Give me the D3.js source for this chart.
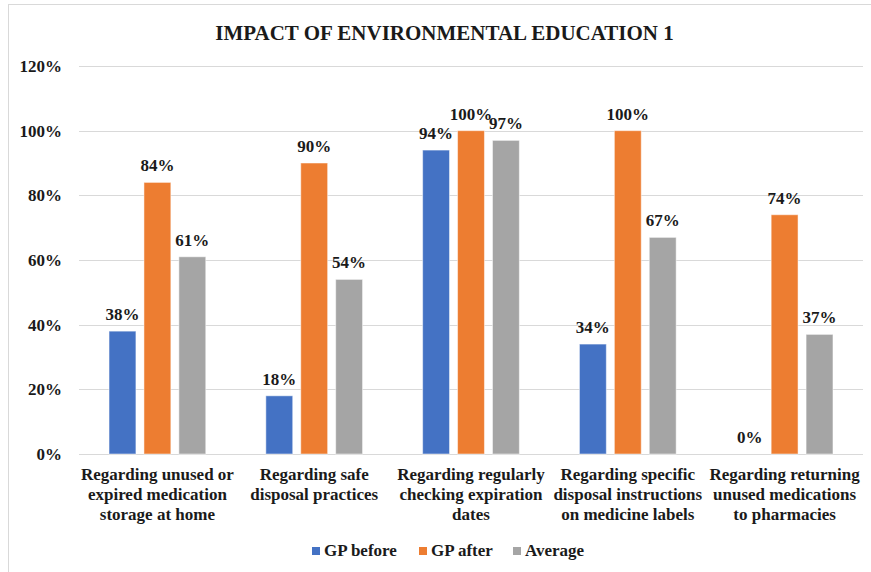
<!DOCTYPE html>
<html>
<head>
<meta charset="utf-8">
<script src="https://cdn.jsdelivr.net/npm/d3@7"></script>
<style>
  html, body { margin: 0; padding: 0; background: #fff; }
  svg { display: block; }
</style>
</head>
<body>
<svg id="chart" width="871" height="572"></svg>
<script>
// Survey categories (multi-line labels)
const categories = [
  ["Regarding unused or", "expired medication", "storage at home"],
  ["Regarding safe", "disposal practices"],
  ["Regarding regularly", "checking expiration", "dates"],
  ["Regarding specific", "disposal instructions", "on medicine labels"],
  ["Regarding returning", "unused medications", "to pharmacies"]
];
const seriesNames = ["GP before", "GP after", "Average"];
const gpBefore = [0.38, 0.18, 0.94, 0.34, 0.00];
const gpAfter  = [0.84, 0.90, 1.00, 1.00, 0.74];
const average  = [0.61, 0.54, 0.97, 0.67, 0.37];
const yTicks = [0, 0.2, 0.4, 0.6, 0.8, 1.0, 1.2];
const colors = ["#4472C4", "#ED7D31", "#A5A5A5"];

const series = [gpBefore, gpAfter, average];
const FONT = '"Liberation Serif", "Times New Roman", serif';
const INK = "#1a1a1a";

const svg = d3.select("#chart");
const W = 871, H = 572;
const margin = { left: 79, right: 8, top: 66, bottom: 118 };

function styleText(sel, size) {
  return sel.style("font-family", FONT).style("font-weight", "bold")
    .style("font-size", size + "px").attr("fill", INK);
}

// chart frame
svg.append("rect")
  .attr("x", 8.5).attr("y", 4.5)
  .attr("width", W + 10).attr("height", H + 10)
  .attr("fill", "none").attr("stroke", "#d9d9d9");

const x0 = d3.scaleBand()
  .domain(d3.range(categories.length))
  .range([margin.left, W - margin.right]);

const x1 = d3.scaleBand()
  .domain(d3.range(series.length))
  .range([0, x0.bandwidth()])
  .paddingInner(0.23)
  .paddingOuter(0.86);

const y = d3.scaleLinear().domain([0, 1.2]).range([H - margin.bottom, margin.top]);
const pct = d3.format(".0%");

// gridlines
svg.append("g")
  .selectAll("line")
  .data(yTicks)
  .join("line")
  .attr("x1", margin.left).attr("x2", W - margin.right)
  .attr("y1", d => Math.round(y(d)) + 0.5).attr("y2", d => Math.round(y(d)) + 0.5)
  .attr("stroke", "#d9d9d9").attr("stroke-width", 1);

// y axis labels
const yAxis = d3.axisLeft(y).tickValues(yTicks).tickFormat(pct).tickSize(0).tickPadding(17);
const gy = svg.append("g").attr("transform", `translate(${margin.left},0)`).call(yAxis);
gy.select(".domain").remove();
styleText(gy.selectAll("text"), 17);

// bars
const groups = svg.append("g")
  .selectAll("g")
  .data(categories.map((c, i) => i))
  .join("g")
  .attr("transform", i => `translate(${x0(i)},0)`);

groups.selectAll("rect")
  .data(i => series.map((s, k) => ({ k, v: s[i] })))
  .join("rect")
  .attr("x", d => x1(d.k))
  .attr("width", x1.bandwidth())
  .attr("y", d => y(d.v))
  .attr("height", d => y(0) - y(d.v))
  .attr("fill", d => colors[d.k])
  .attr("stroke", "#ffffff")
  .attr("stroke-opacity", 0.5)
  .attr("stroke-width", 1);

// value labels
styleText(groups.selectAll("text.val")
  .data(i => series.map((s, k) => ({ k, v: s[i] })))
  .join("text")
  .attr("class", "val")
  .attr("x", d => x1(d.k) + x1.bandwidth() / 2)
  .attr("y", d => y(d.v) - 11)
  .attr("text-anchor", "middle")
  .text(d => pct(d.v)), 17);

// category labels
const catG = svg.append("g");
categories.forEach((lines, i) => {
  const cx = x0(i) + x0.bandwidth() / 2;
  const t = styleText(catG.append("text")
    .attr("x", cx)
    .attr("y", 480)
    .attr("text-anchor", "middle"), 17);
  lines.forEach((ln, j) => {
    t.append("tspan")
      .attr("x", cx)
      .attr("dy", j === 0 ? 0 : 20)
      .text(ln);
  });
});

// title
styleText(svg.append("text")
  .attr("x", 444.5).attr("y", 40)
  .attr("text-anchor", "middle")
  .text("IMPACT OF ENVIRONMENTAL EDUCATION 1"), 21);

// legend
const legendX = [312, 419, 513];
const lg = svg.append("g");
seriesNames.forEach((name, k) => {
  lg.append("rect")
    .attr("x", legendX[k]).attr("y", 547)
    .attr("width", 8).attr("height", 8)
    .attr("fill", colors[k]);
  styleText(lg.append("text")
    .attr("x", legendX[k] + 12).attr("y", 556), 17)
    .text(name);
});
</script>
</body>
</html>
